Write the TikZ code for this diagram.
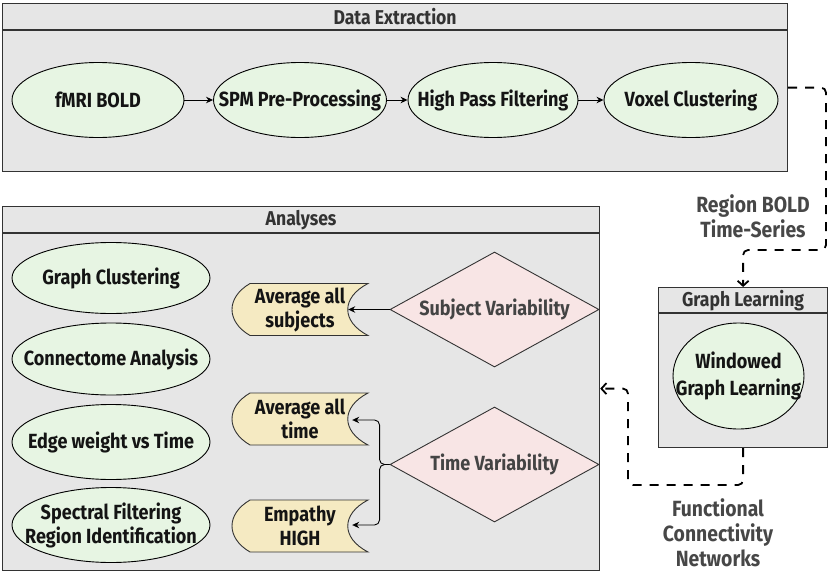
\documentclass[tikz,border=0pt]{standalone}
\usepackage{fontspec}
\setmainfont{Fira Sans}[FakeStretch=0.88]
\usetikzlibrary{shapes.geometric,arrows.meta}
\definecolor{boxc}{HTML}{E6E6E6}
\definecolor{bordc}{HTML}{333333}
\definecolor{ellc}{HTML}{E7F5E3}
\definecolor{diac}{HTML}{F8E5E5}
\definecolor{dsc}{HTML}{F5EAC2}
\definecolor{txtc}{HTML}{141414}
\definecolor{diatxt}{HTML}{444444}
\definecolor{hdrc}{HTML}{333333}
\definecolor{lblc}{HTML}{474747}
\newcommand\dshape[2]{%
  \draw[dstore] ({#1-50},{#2-26}) -- ({#1+68},{#2-26})
    .. controls ({#1+41},{#2-12}) and ({#1+41},{#2+12}) .. ({#1+68},{#2+26})
    -- ({#1-50},{#2+26})
    .. controls ({#1-74},{#2+12}) and ({#1-74},{#2-12}) .. cycle;}
\begin{document}
\begin{tikzpicture}[x=1pt,y=-1pt,
  font=\bfseries\fontsize{20.5}{24}\selectfont,
  box/.style={draw=bordc, fill=boxc, line width=1.2pt, inner sep=0pt},
  hline/.style={draw=bordc, line width=1.2pt},
  ell/.style={ellipse, draw=black, fill=ellc, line width=0.9pt, inner sep=0pt},
  etext/.style={text=txtc, align=center},
  dia/.style={diamond, draw=bordc, fill=diac, line width=0.9pt, inner sep=0pt, aspect=1.82, minimum width=209pt, minimum height=115pt},
  dtext/.style={text=diatxt, align=center},
  dstore/.style={draw=bordc, fill=dsc, line width=0.9pt},
  dstext/.style={text=txtc, align=center, minimum width=136pt, minimum height=52pt, inner sep=0pt},
  hdr/.style={text=hdrc, font=\bfseries\fontsize{20}{22}\selectfont},
  lbl/.style={text=lblc, align=center, font=\bfseries\fontsize{22}{25}\selectfont},
  arr/.style={-{Stealth[length=7pt,width=6.5pt]}, line width=0.9pt, draw=black},
  dashconn/.style={dash pattern=on 9pt off 8pt, line width=1.8pt, -{Straight Barb[length=5pt,width=11pt]}, rounded corners=5pt}
]
\useasboundingbox (0,0) rectangle (830,573);

% ---------- Data Extraction ----------
\node[box, anchor=north west, minimum width=785pt, minimum height=168pt] (de) at (2,3) {};
\draw[hline] ([yshift=-27pt]de.north west) -- ([yshift=-27pt]de.north east);
\node[hdr] (deh) at ([yshift=-14pt]de.north) {Data Extraction};

\node[ell, minimum width=172pt, minimum height=75pt, label={[etext]center:fMRI BOLD}] (e1) at (98,100) {};
\node[ell, minimum width=173pt, minimum height=75pt, label={[etext]center:SPM Pre-Processing}] (e2) at (300,100) {};
\node[ell, minimum width=170pt, minimum height=75pt, label={[etext]center:High Pass Filtering}] (e3) at (493,100) {};
\node[ell, minimum width=174pt, minimum height=75pt, label={[etext]center:Voxel Clustering}] (e4) at (691,100) {};
\draw[arr] (e1) -- (e2);
\draw[arr] (e2) -- (e3);
\draw[arr] (e3) -- (e4);

% ---------- Analyses ----------
\node[box, anchor=north west, minimum width=597pt, minimum height=364pt] (an) at (2,206) {};
\draw[hline] ([yshift=-27pt]an.north west) -- ([yshift=-27pt]an.north east);
\node[hdr] (anh) at ([yshift=-14pt]an.north) {Analyses};

\node[ell, minimum width=198pt, minimum height=71pt, label={[etext]center:Graph Clustering}] (a1) at (111,278) {};
\node[ell, minimum width=198pt, minimum height=72pt, label={[etext]center:Connectome Analysis}] (a2) at (111,359) {};
\node[ell, minimum width=198pt, minimum height=75pt, label={[etext]center:Edge weight vs Time}] (a3) at (111,442) {};
\node[ell, minimum width=198pt, minimum height=75pt, label={[etext]center:Spectral Filtering\\Region Identification}] (a4) at (111,525) {};

\node[dia, label={[dtext]center:Subject Variability}] (d1) at (494.5,309.5) {};
\node[dia, label={[dtext]center:Time Variability}] (d2) at (494.5,464.5) {};

\dshape{300}{309.5}
\node[dstext] (s1) at (300,309.5) {Average all\\subjects};
\dshape{300}{419}
\node[dstext] (s2) at (300,419) {Average all\\time};
\dshape{300}{526}
\node[dstext] (s3) at (300,526) {Empathy\\HIGH};

\draw[arr] (d1.west) -- ([xshift=-20pt]s1.east);
\draw[arr, rounded corners=5pt] (d2.west) -- ++(-10,0) |- ([xshift=-16pt,yshift=-1pt]s2.east);
\draw[arr, rounded corners=5pt] (d2.west) -- ++(-10,0) |- ([xshift=-16pt,yshift=1pt]s3.east);

% ---------- Graph Learning ----------
\node[box, anchor=north west, minimum width=169pt, minimum height=160pt] (gl) at (658,287) {};
\draw[hline] ([yshift=-26pt]gl.north west) -- ([yshift=-26pt]gl.north east);
\node[hdr] (glh) at ([yshift=-13.5pt]gl.north) {Graph Learning};
\node[ell, minimum width=131pt, minimum height=106pt, label={[etext, font=\bfseries\fontsize{20.5}{27}\selectfont]center:Windowed\\Graph Learning}] (w1) at (738.5,376) {};

% ---------- connectors ----------
\coordinate (r1) at (826,250);
\draw[dashconn] (de.east) -| (r1) -| (gl.north);
\coordinate (r2) at (628,485);
\draw[dashconn] (gl.south) |- (r2) |- (an.east);

\node[lbl] (l1) at (753,216) {Region BOLD\\Time-Series};
\node[lbl] (l2) at (718,533) {Functional\\Connectivity\\Networks};
\end{tikzpicture}
\end{document}
